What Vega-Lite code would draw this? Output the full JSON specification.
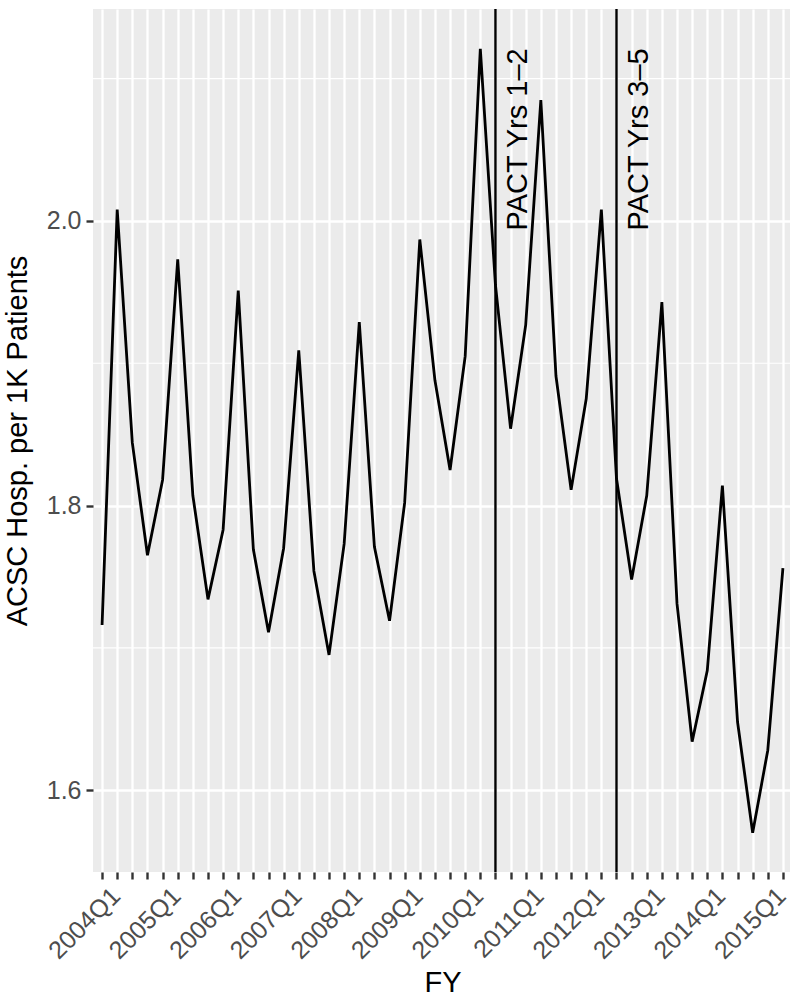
{
  "$schema": "https://vega.github.io/schema/vega-lite/v6.json",
  "width": 699,
  "height": 863,
  "autosize": "none",
  "padding": {"left": 93, "top": 9, "right": 0, "bottom": 125},
  "background": "white",
  "config": {
    "view": {"fill": "#EBEBEB", "stroke": null},
    "font": "Liberation Sans",
    "axis": {
      "labelFont": "Liberation Sans",
      "labelFontSize": 25,
      "labelColor": "#4D4D4D",
      "titleFont": "Liberation Sans",
      "titleFontSize": 29,
      "titleFontWeight": "normal",
      "titleColor": "black",
      "domain": false,
      "ticks": true,
      "tickColor": "#333333",
      "tickWidth": 2.4,
      "tickSize": 7,
      "grid": true,
      "gridColor": "white",
      "gridWidth": 2.3
    },
    "axisX": {
      "labelAngle": -45,
      "labelAlign": "right",
      "labelBaseline": "top",
      "labelOverlap": false,
      "labelBound": false,
      "labelFlush": false,
      "labelPadding": 4,
      "labelOffset": 5,
      "titleBaseline": "alphabetic",
      "titleX": 349.5,
      "titleY": 119
    },
    "axisY": {
      "labelPadding": 5,
      "titleBaseline": "alphabetic",
      "titleAngle": 270,
      "titleX": -67,
      "titleY": 431.5
    }
  },
  "datasets": {
    "series": [
      {"FY": "2004Q1", "rate": 1.716}, {"FY": "2004Q2", "rate": 2.008}, {"FY": "2004Q3", "rate": 1.844}, {"FY": "2004Q4", "rate": 1.765},
      {"FY": "2005Q1", "rate": 1.818}, {"FY": "2005Q2", "rate": 1.973}, {"FY": "2005Q3", "rate": 1.807}, {"FY": "2005Q4", "rate": 1.734},
      {"FY": "2006Q1", "rate": 1.783}, {"FY": "2006Q2", "rate": 1.951}, {"FY": "2006Q3", "rate": 1.769}, {"FY": "2006Q4", "rate": 1.711},
      {"FY": "2007Q1", "rate": 1.770}, {"FY": "2007Q2", "rate": 1.909}, {"FY": "2007Q3", "rate": 1.754}, {"FY": "2007Q4", "rate": 1.695},
      {"FY": "2008Q1", "rate": 1.773}, {"FY": "2008Q2", "rate": 1.929}, {"FY": "2008Q3", "rate": 1.771}, {"FY": "2008Q4", "rate": 1.719},
      {"FY": "2009Q1", "rate": 1.802}, {"FY": "2009Q2", "rate": 1.987}, {"FY": "2009Q3", "rate": 1.888}, {"FY": "2009Q4", "rate": 1.825},
      {"FY": "2010Q1", "rate": 1.905}, {"FY": "2010Q2", "rate": 2.121}, {"FY": "2010Q3", "rate": 1.955}, {"FY": "2010Q4", "rate": 1.854},
      {"FY": "2011Q1", "rate": 1.927}, {"FY": "2011Q2", "rate": 2.085}, {"FY": "2011Q3", "rate": 1.891}, {"FY": "2011Q4", "rate": 1.811},
      {"FY": "2012Q1", "rate": 1.875}, {"FY": "2012Q2", "rate": 2.008}, {"FY": "2012Q3", "rate": 1.819}, {"FY": "2012Q4", "rate": 1.748},
      {"FY": "2013Q1", "rate": 1.807}, {"FY": "2013Q2", "rate": 1.943}, {"FY": "2013Q3", "rate": 1.731}, {"FY": "2013Q4", "rate": 1.634},
      {"FY": "2014Q1", "rate": 1.684}, {"FY": "2014Q2", "rate": 1.814}, {"FY": "2014Q3", "rate": 1.648}, {"FY": "2014Q4", "rate": 1.570},
      {"FY": "2015Q1", "rate": 1.628}, {"FY": "2015Q2", "rate": 1.756}
    ],
    "minor": [{"rate": 1.7}, {"rate": 1.9}, {"rate": 2.1}],
    "phases": [
      {"FY": "2010Q3", "label": "PACT Yrs 1–2"},
      {"FY": "2012Q3", "label": "PACT Yrs 3–5"}
    ]
  },
  "layer": [
    {
      "data": {"name": "minor"},
      "mark": {"type": "rule", "color": "white", "strokeWidth": 1.2},
      "encoding": {
        "y": {
          "field": "rate", "type": "quantitative",
          "scale": {"domain": [1.5424, 2.149], "nice": false, "zero": false},
          "axis": {"title": "ACSC Hosp. per 1K Patients", "values": [1.6, 1.8, 2.0], "format": ".1f"}
        }
      }
    },
    {
      "data": {"name": "series"},
      "mark": {"type": "line", "color": "black", "strokeWidth": 2.8},
      "encoding": {
        "x": {
          "field": "FY", "type": "ordinal",
          "scale": {"type": "point", "padding": 0.6},
          "axis": {"title": "FY", "labelExpr": "slice(datum.value, 4) == 'Q1' ? datum.value : ''"}
        },
        "y": {
          "field": "rate", "type": "quantitative",
          "scale": {"domain": [1.5424, 2.149], "nice": false, "zero": false},
          "axis": {"title": "ACSC Hosp. per 1K Patients", "values": [1.6, 1.8, 2.0], "format": ".1f"}
        }
      }
    },
    {
      "data": {"name": "phases"},
      "mark": {"type": "rule", "color": "black", "strokeWidth": 2.4},
      "encoding": {
        "x": {
          "field": "FY", "type": "ordinal",
          "axis": {"title": "FY", "labelExpr": "slice(datum.value, 4) == 'Q1' ? datum.value : ''"}
        }
      }
    },
    {
      "data": {"name": "phases"},
      "mark": {"type": "text", "angle": 270, "align": "right", "baseline": "alphabetic", "dy": 32, "fontSize": 29, "font": "Liberation Sans", "color": "black"},
      "encoding": {
        "x": {
          "field": "FY", "type": "ordinal",
          "axis": {"title": "FY", "labelExpr": "slice(datum.value, 4) == 'Q1' ? datum.value : ''"}
        },
        "y": {
          "datum": 2.1214, "type": "quantitative",
          "axis": {"title": "ACSC Hosp. per 1K Patients", "values": [1.6, 1.8, 2.0], "format": ".1f"}
        },
        "text": {"field": "label"}
      }
    }
  ]
}
